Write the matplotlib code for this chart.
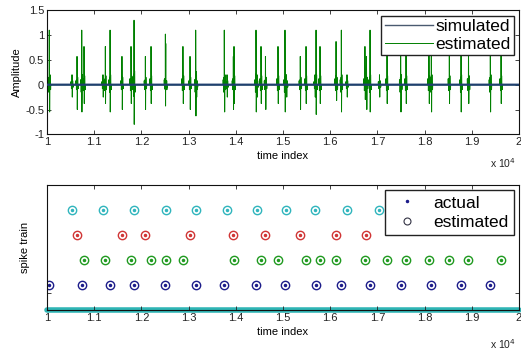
import matplotlib.pyplot as plt
import numpy as np

plt.rcParams['font.family'] = ['Liberation Sans', 'DejaVu Sans']

# spike times (time index), one list per unit
spikes_blue = [10049, 10735, 11335, 11843, 12507, 13150, 13757, 14428, 15042,
               15699, 16235, 16843, 17493, 18142, 18771, 19392]
spikes_green = [10784, 11235, 11780, 12203, 12515, 12881, 13962, 14534, 14894,
                15487, 15784, 16123, 16737, 17203, 17606, 18093, 18523, 18930, 19619]
spikes_red = [10636, 11589, 12083, 13030, 13947, 14629, 15366, 16129, 16769]
spikes_cyan = [10530, 11186, 11843, 12521, 13167, 13814, 14449, 15074, 15678,
               16356, 17044]

# waveform of each unit (sample offsets and amplitudes) as seen in the top panel
wave_offsets = [-24, -12, -4, 0, 6, 14, 26]
wave_blue = [0.1, -0.15, 0.15, 1.1, -0.55, 0.2, -0.1]
wave_green = [0.12, -0.12, 0.12, 0.77, -0.38, 0.18, -0.1]
wave_red = [0.08, -0.1, 0.1, 0.57, -0.5, 0.15, -0.08]
wave_cyan = [0.06, -0.08, 0.06, 0.2, -0.25, 0.08, -0.05]

units = [
    (spikes_blue, wave_blue, 1, '#1c1c8a'),
    (spikes_green, wave_green, 2, '#209a20'),
    (spikes_red, wave_red, 3, '#d03535'),
    (spikes_cyan, wave_cyan, 4, '#30b5bd'),
]

t = np.arange(10000, 20001, 2)
estimated = np.zeros(len(t))
for times, wave, row, col in units:
    for s in times:
        for off, val in zip(wave_offsets, wave):
            idx = int(round((s + off - 10000) / 2))
            if 0 <= idx < len(t):
                estimated[idx] += val
simulated = np.zeros(len(t))

fig = plt.figure(figsize=(5.21, 3.5), dpi=100)
ax1 = fig.add_axes([47/521, (350-134.3)/350, 472/521, 124/350])
ax2 = fig.add_axes([47/521, 40/350, 472/521, 125/350])

xt = np.arange(10000, 20001, 1000)
xtl = ['1', '1.1', '1.2', '1.3', '1.4', '1.5', '1.6', '1.7', '1.8', '1.9', '2']

ax1.plot(t, estimated, color='#008000', lw=0.7, label='estimated', zorder=2)
ax1.plot(t, simulated, color='#1f3f6f', lw=1.6, label='simulated', zorder=3)
ax1.set_xlim(10000, 20000)
ax1.set_ylim(-1, 1.5)
ax1.set_yticks([-1, -0.5, 0, 0.5, 1, 1.5])
ax1.set_yticklabels(['-1', '-0.5', '0', '0.5', '1', '1.5'])
ax1.set_ylabel('Amplitude', fontsize=8, labelpad=2)
ax1.set_xlabel('time index', fontsize=8, labelpad=3)
h, l = ax1.get_legend_handles_labels()
leg1 = ax1.legend(h[::-1], l[::-1], loc='upper right', fontsize=12.5,
                  fancybox=False, edgecolor='#222222', framealpha=1,
                  handlelength=2.8, handletextpad=0.1, borderaxespad=0.3,
                  borderpad=0.2, labelspacing=0.15)
leg1.get_lines()[0].set_color('#4a5a70')
leg1.get_lines()[0].set_linewidth(1.0)

for times, wave, row, col in units:
    ys = [row] * len(times)
    ax2.plot(times, ys, '.', color=col, ms=3)
    ax2.plot(times, ys, 'o', mec=col, mfc='none', ms=6, mew=1)
ax2.plot([10000, 20000], [0, 0], color='#2fb5b5', lw=4,
         solid_capstyle='round', clip_on=False, zorder=1)
ax2.plot([], [], '.', color='#1c1c8a', ms=3, label='actual')
ax2.plot([], [], 'o', mec='#333344', mfc='none', ms=5, mew=0.8, label='estimated')
ax2.set_xlim(10000, 20000)
ax2.set_ylim(0, 5)
ax2.set_yticks([0.7, 5])
ax2.set_yticklabels([])
ax2.set_ylabel('spike train', fontsize=8, labelpad=10)
ax2.set_xlabel('time index', fontsize=8, labelpad=3)
ax2.legend(loc='upper right', fontsize=12.5, fancybox=False, edgecolor='#222222',
           framealpha=1, handlelength=2.0, handletextpad=0.5,
           borderaxespad=0.3, borderpad=0.3, labelspacing=0.25)

for ax in (ax1, ax2):
    ax.set_xticks(xt)
    ax.set_xticklabels(xtl)
    ax.tick_params(direction='in', length=3, width=0.6, top=True, right=True,
                   labelsize=8, pad=2, colors='#222222')
    for sp in ax.spines.values():
        sp.set_linewidth(0.8)
        sp.set_color('#111111')

fig.text(490/521, 1 - 163/350, r'x 10$^4$', fontsize=7.5, va='center', color='#222222')
fig.text(490/521, 1 - 344/350, r'x 10$^4$', fontsize=7.5, va='center', color='#222222')

fig.savefig('out.png', dpi=100)
